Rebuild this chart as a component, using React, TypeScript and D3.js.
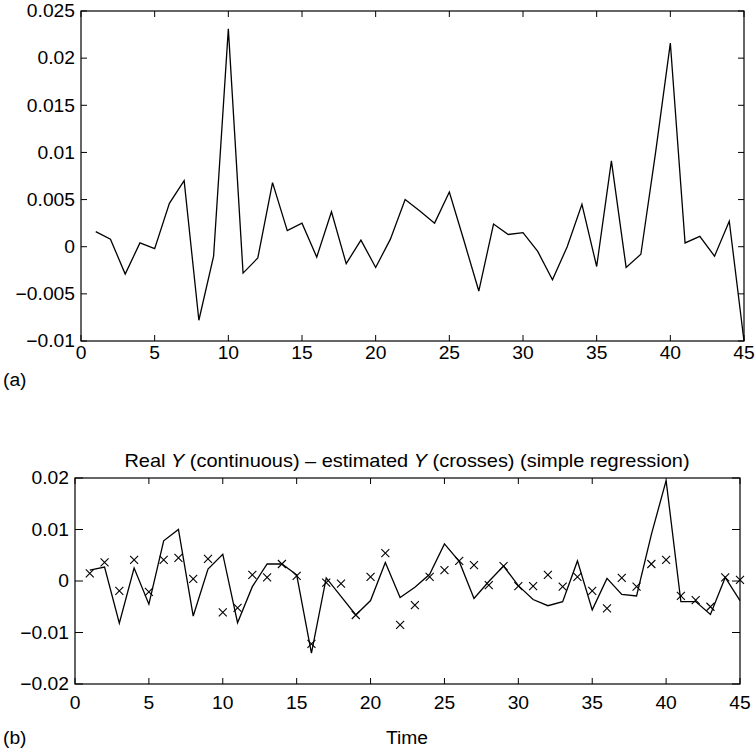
import React from "react";
import * as d3 from "d3";

const timeA = d3.range(1, 46);
const seriesA = [
  0.0016, 0.0008, -0.0029, 0.0004, -0.0002, 0.0046, 0.007, -0.0078, -0.001, 0.0231,
  -0.0028, -0.0012, 0.0068, 0.0017, 0.0025, -0.0011, 0.0037, -0.0018, 0.0007, -0.0022,
  0.0008, 0.005, 0.0038, 0.0025, 0.0058, 0.0006, -0.0047, 0.0024, 0.0013, 0.0015,
  -0.0005, -0.0035, 0.0, 0.0045, -0.0021, 0.0091, -0.0022, -0.0008, 0.01, 0.0216,
  0.0004, 0.0011, -0.001, 0.0027, -0.01,
];
const realY = [
  0.0021, 0.0027, -0.0082, 0.0025, -0.0045, 0.0078, 0.01, -0.0068, 0.0023, 0.0052,
  -0.0081, -0.0011, 0.0033, 0.0033, 0.0012, -0.014, 0.0006, -0.003, -0.0066, -0.0038,
  0.0036, -0.0032, -0.0012, 0.0013, 0.0072, 0.0038, -0.0034, -0.0001, 0.0029, -0.0009,
  -0.0036, -0.0048, -0.004, 0.0039, -0.0056, 0.0005, -0.0026, -0.0029, 0.009, 0.0195,
  -0.004, -0.004, -0.0065, 0.0007, -0.0038,
];
const estY = [
  0.0015, 0.0036, -0.0019, 0.0041, -0.0021, 0.0041, 0.0045, 0.0004, 0.0043, -0.0061,
  -0.0052, 0.0012, 0.0007, 0.0033, 0.001, -0.0122, -0.0003, -0.0005, -0.0066, 0.0008,
  0.0054, -0.0085, -0.0047, 0.0008, 0.0021, 0.0039, 0.0031, -0.0008, 0.0029, -0.001,
  -0.001, 0.0012, -0.0011, 0.0008, -0.0019, -0.0053, 0.0006, -0.0011, 0.0033, 0.0041,
  -0.0029, -0.0037, -0.005, 0.0007, 0.0002,
];
const xTicks = [0, 5, 10, 15, 20, 25, 30, 35, 40, 45];
const yTicksA = [-0.01, -0.005, 0, 0.005, 0.01, 0.015, 0.02, 0.025];
const yTicksB = [-0.02, -0.01, 0, 0.01, 0.02];

const FONT = "'Liberation Sans', Arial, Helvetica, sans-serif";
const FS = 18;
const SX = 1.07;

const fmt = (v: number) => {
  if (v === 0) return "0";
  const s = String(Math.abs(+v.toFixed(4)));
  return (v < 0 ? "\u2212" : "") + s;
};

function Txt({ x, y, anchor = "start", size = FS, sx = SX, children }: { x: number; y: number; anchor?: string; size?: number; sx?: number; children: React.ReactNode }) {
  return (
    <text
      transform={`translate(${x},${y}) scale(${sx},1)`}
      textAnchor={anchor}
      dominantBaseline="central"
      fontFamily={FONT}
      fontSize={size}
      fill="#000"
    >
      {children}
    </text>
  );
}

type AxProps = {
  x0: number; x1: number; y0: number; y1: number;
  yDomain: [number, number]; yTicks: number[]; xLabelDy: number; tick: number;
  children?: (x: d3.ScaleLinear<number, number>, y: d3.ScaleLinear<number, number>) => React.ReactNode;
};

function Axes({ x0, x1, y0, y1, yDomain, yTicks, xLabelDy, tick, children }: AxProps) {
  const x = d3.scaleLinear().domain([0, 45]).range([x0, x1]);
  const y = d3.scaleLinear().domain(yDomain).range([y1, y0]);
  return (
    <g>
      {children && children(x, y)}
      <rect x={x0} y={y0} width={x1 - x0} height={y1 - y0} fill="none" stroke="#000" strokeWidth={1.2} />
      {xTicks.map((t) => (
        <g key={"x" + t}>
          <line x1={x(t)} x2={x(t)} y1={y1} y2={y1 - 6} stroke="#000" strokeWidth={1} />
          <line x1={x(t)} x2={x(t)} y1={y0} y2={y0 + 6} stroke="#000" strokeWidth={1} />
          <Txt x={x(t)} y={y1 + xLabelDy} anchor="middle">{t}</Txt>
        </g>
      ))}
      {yTicks.map((t) => (
        <g key={"y" + t}>
          <line x1={x0} x2={x0 + tick} y1={y(t)} y2={y(t)} stroke="#000" strokeWidth={1} />
          <line x1={x1} x2={x1 - tick} y1={y(t)} y2={y(t)} stroke="#000" strokeWidth={1} />
          <Txt x={x0 - 6} y={y(t)} anchor="end">{fmt(t)}</Txt>
        </g>
      ))}
    </g>
  );
}

export default function App() {
  return (
    <svg width={756} height={752} style={{ position: "absolute", left: 0, top: 0, background: "#fff" }}>
      <rect width={756} height={752} fill="#fff" />
      <Axes x0={81} x1={744} y0={11} y1={341} yDomain={[-0.01, 0.025]} yTicks={yTicksA} xLabelDy={12} tick={6}>
        {(x, y) => {
          const line = d3.line<number>().x((_, i) => x(timeA[i])).y((d) => y(d));
          return <path d={line(seriesA) || ""} fill="none" stroke="#000" strokeWidth={1.3} />;
        }}
      </Axes>
      <Txt x={3} y={380}>(a)</Txt>

      <Txt x={407} y={460} anchor="middle" size={19} sx={1.05}>
        Real <tspan fontStyle="italic">Y</tspan> (continuous) – estimated <tspan fontStyle="italic">Y</tspan> (crosses) (simple regression)
      </Txt>
      <Axes x0={75} x1={740} y0={478} y1={684} yDomain={[-0.02, 0.02]} yTicks={yTicksB} xLabelDy={19} tick={8}>
        {(x, y) => {
          const line = d3.line<number>().x((_, i) => x(timeA[i])).y((d) => y(d));
          return (
            <g>
              <path d={line(realY) || ""} fill="none" stroke="#000" strokeWidth={1.3} />
              {estY.map((v, i) => {
                const cx = x(timeA[i]);
                const cy = y(v);
                const r = 4;
                return (
                  <path key={i} d={`M${cx - r},${cy - r}L${cx + r},${cy + r}M${cx - r},${cy + r}L${cx + r},${cy - r}`} stroke="#000" strokeWidth={1.1} fill="none" />
                );
              })}
            </g>
          );
        }}
      </Axes>
      <Txt x={3} y={738}>(b)</Txt>
      <Txt x={407} y={738} anchor="middle">Time</Txt>
    </svg>
  );
}
